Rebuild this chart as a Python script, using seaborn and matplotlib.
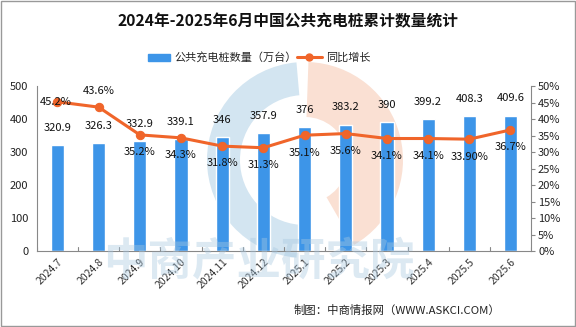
import matplotlib
matplotlib.use("Agg")
import matplotlib.pyplot as plt
from matplotlib.patches import Wedge, Rectangle
from matplotlib.lines import Line2D
import seaborn as sns
import pandas as pd
import numpy as np

months = ["2024.7", "2024.8", "2024.9", "2024.10", "2024.11", "2024.12",
          "2025.1", "2025.2", "2025.3", "2025.4", "2025.5", "2025.6"]
counts = [320.9, 326.3, 332.9, 339.1, 346, 357.9, 376, 383.2, 390, 399.2, 408.3, 409.6]
count_labels = ["320.9", "326.3", "332.9", "339.1", "346", "357.9", "376", "383.2", "390", "399.2", "408.3", "409.6"]
growth = [45.2, 43.6, 35.2, 34.3, 31.8, 31.3, 35.1, 35.6, 34.1, 34.1, 33.9, 36.7]
growth_labels = ["45.2%", "43.6%", "35.2%", "34.3%", "31.8%", "31.3%", "35.1%", "35.6%", "34.1%", "34.1%", "33.90%", "36.7%"]

sns.set_theme(style="white")
plt.rcParams["font.family"] = ["Noto Sans CJK SC", "DejaVu Sans"]

BLUE = "#3D95E8"
ORANGE = "#F0652A"

df = pd.DataFrame({"month": months, "count": counts, "growth": growth})

fig = plt.figure(figsize=(5.76, 3.27), dpi=100)
fig.patch.set_facecolor("white")

# faint logo watermark
for w in [Wedge((3.05, 1.67), 0.98, 95, 265, width=0.33, facecolor="#D3E5F1",
                edgecolor="none", transform=fig.dpi_scale_trans, zorder=-2),
          Wedge((3.05, 1.67), 0.98, -60, 88, width=0.55, facecolor="#FAE0D3",
                edgecolor="none", transform=fig.dpi_scale_trans, zorder=-2)]:
    fig.patches.append(w)

ax = fig.add_axes([0.064, 0.232, 0.858, 0.505])
ax.patch.set_alpha(0)

sns.barplot(data=df, x="month", y="count", color=BLUE, width=0.32, ax=ax,
            saturation=1, zorder=2)
ax.set_ylim(0, 500)
ax.set_yticks(range(0, 501, 100))
ax.set_xlim(-0.5, len(months) - 0.5)
ax.set_xlabel("")
ax.set_ylabel("")
ax.tick_params(axis="y", labelsize=8, length=0, pad=6, colors="#222222")
ax.set_xticks(range(len(months)))
ax.set_xticklabels(months, rotation=45, ha="right", rotation_mode="anchor",
                   fontsize=7.5, color="#333333")
ax.tick_params(axis="x", length=0, pad=4)
for s in ["top", "right"]:
    ax.spines[s].set_visible(False)
for s in ["left", "bottom"]:
    ax.spines[s].set_color("#888888")
    ax.spines[s].set_linewidth(0.8)
for i in range(len(months) + 1):
    ax.plot([i - 0.5, i - 0.5], [0, 12], color="#888888", lw=0.8, zorder=1)

for i, (v, lab) in enumerate(zip(counts, count_labels)):
    ax.annotate(lab, (i, v), xytext=(0, 12.5), textcoords="offset points",
                ha="center", va="center", fontsize=8, color="#111111")

ax2 = ax.twinx()
ax2.patch.set_alpha(0)
sns.lineplot(data=df, x="month", y="growth", color=ORANGE, lw=2.2, marker="o",
             markersize=6, markeredgecolor=ORANGE, ax=ax2, zorder=3)
ax2.set_ylim(0, 50)
ax2.set_yticks(range(0, 51, 5))
ax2.set_yticklabels([f"{t}%" for t in range(0, 51, 5)])
ax2.tick_params(axis="y", labelsize=8, length=3, width=0.8, color="#888888",
                pad=2, colors="#222222")
ax2.set_ylabel("")
ax2.set_xlabel("")
for s in ["top", "left", "bottom"]:
    ax2.spines[s].set_visible(False)
ax2.spines["right"].set_color("#888888")
ax2.spines["right"].set_linewidth(0.8)

for i, (v, lab) in enumerate(zip(growth, growth_labels)):
    if i == 0:
        xy = (-1, 0)
    elif i == 1:
        xy = (0, 11.5)
    else:
        xy = (0, -12.5)
    ax2.annotate(lab, (i, v), xytext=xy, textcoords="offset points",
                 ha="center", va="center", fontsize=8, color="#111111")

fig.text(0.5, 0.936, "2024年-2025年6月中国公共充电桩累计数量统计", ha="center",
         va="center", fontsize=11.3, fontweight="bold", color="#111111")

# legend
fig.patches.append(Rectangle((0.257, 0.814), 0.038, 0.021, transform=fig.transFigure,
                             color=BLUE, figure=fig))
fig.text(0.302, 0.825, "公共充电桩数量（万台）", ha="left", va="center", fontsize=8)
fig.lines.append(Line2D([0.516, 0.559], [0.825, 0.825], transform=fig.transFigure,
                        color=ORANGE, lw=2.2, figure=fig))
fig.lines.append(Line2D([0.537], [0.825], transform=fig.transFigure,
                        color=ORANGE, marker="o", markersize=5, figure=fig))
fig.text(0.566, 0.825, "同比增长", ha="left", va="center", fontsize=8)

# text watermark
fig.text(0.45, 0.20, "中商产业研究院", ha="center", va="center", fontsize=32,
         color="#A8C8E0", alpha=0.4, fontweight="bold", zorder=0)

fig.text(0.868, 0.052, "制图：中商情报网（WWW.ASKCI.COM）", ha="right", va="center",
         fontsize=8.2, color="#222222")

fig.patches.append(Rectangle((0.001, 0.002), 0.997, 0.995, transform=fig.transFigure,
                             fill=False, edgecolor="#999999", lw=1, figure=fig))

fig.savefig("out.png", dpi=100)
